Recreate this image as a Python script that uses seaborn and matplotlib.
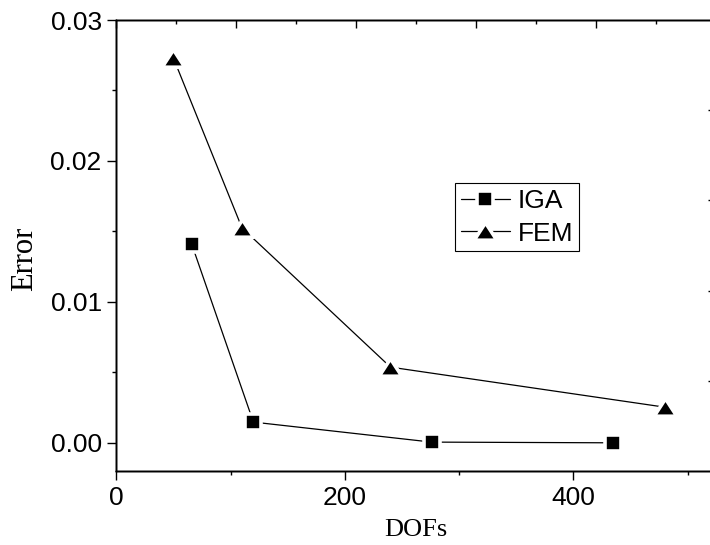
import matplotlib
matplotlib.use("Agg")
import numpy as np
import pandas as pd
import matplotlib.pyplot as plt
from matplotlib.markers import MarkerStyle
from matplotlib.path import Path
from matplotlib.ticker import MultipleLocator, FixedLocator, NullFormatter
import seaborn as sns

# Error versus degrees of freedom for the two discretisations
iga_dofs = [66, 120, 276, 435]
iga_error = [0.0141, 0.00147, 0.00005, 0.0]
fem_dofs = [50, 110, 240, 480]
fem_error = [0.0273, 0.01525, 0.00537, 0.00253]
series_names = ["IGA", "FEM"]

sns.set_theme(style="ticks")
plt.rcParams["font.family"] = ["Liberation Sans", "DejaVu Sans"]
plt.rcParams.update({
    "axes.edgecolor": "black",
    "axes.linewidth": 1.0,
    "xtick.color": "black",
    "ytick.color": "black",
    "text.color": "black",
    "axes.labelcolor": "black",
})

df = pd.concat([
    pd.DataFrame({"DOFs": iga_dofs, "Error": iga_error, "method": series_names[0]}),
    pd.DataFrame({"DOFs": fem_dofs, "Error": fem_error, "method": series_names[1]}),
], ignore_index=True)

fig = plt.figure(figsize=(7.10, 5.45), dpi=100)
W, H = 710.0, 545.0
ax = fig.add_axes([116.3 / W, 74 / H, 600 / W, 451 / H])

# white marker edges leave a small gap between each marker and its line
square = MarkerStyle("s", joinstyle="round")
tri_path = Path([(0, 0.77), (-1, -0.77), (1, -0.77), (0, 0.77)],
                [Path.MOVETO, Path.LINETO, Path.LINETO, Path.CLOSEPOLY])
triangle = MarkerStyle(tri_path, joinstyle="round")

common = dict(color="black", linewidth=0.9, markerfacecolor="black",
              markeredgecolor="white", markeredgewidth=2.6, errorbar=None,
              sort=False)
sns.lineplot(data=df[df["method"] == "IGA"], x="DOFs", y="Error", ax=ax,
             marker=square, markersize=11.7, label="IGA", **common)
sns.lineplot(data=df[df["method"] == "FEM"], x="DOFs", y="Error", ax=ax,
             marker=triangle, markersize=16.3, label="FEM", **common)

ax.set_xlim(0, 525.2)
ax.set_ylim(-0.002, 0.03)
ax.xaxis.set_major_locator(MultipleLocator(200))
ax.xaxis.set_minor_locator(MultipleLocator(100))
ax.yaxis.set_major_locator(MultipleLocator(0.01))
ax.yaxis.set_minor_locator(MultipleLocator(0.005))
ax.yaxis.set_major_formatter(matplotlib.ticker.FormatStrFormatter("%.2f"))
ax.tick_params(axis="both", which="major", direction="out", length=6.5,
               width=1.0, labelsize=19, pad=4)
ax.tick_params(axis="both", which="minor", direction="out", length=3,
               width=1.0)
ax.tick_params(top=False, right=False)
for s in ax.spines.values():
    s.set_visible(True)
    s.set_linewidth(1.0)
    s.set_color("black")

ax.set_xlabel("DOFs", fontfamily=["Liberation Serif"], fontsize=19, labelpad=7)
ax.set_ylabel("Error", fontfamily=["Liberation Serif"], fontsize=22)
ax.yaxis.set_label_coords(-0.128, 0.47)

# independent frame ticks along the top and right edges
top = ax.twiny()
top.set_xlim(0, 5)
top.xaxis.set_major_locator(FixedLocator([0, 1, 2, 3, 4, 5]))
top.xaxis.set_minor_locator(MultipleLocator(0.5))
top.xaxis.set_major_formatter(NullFormatter())
top.tick_params(axis="x", which="major", direction="in", length=5.8, width=1.0)
top.tick_params(axis="x", which="minor", direction="in", length=2.9, width=1.0)

right = ax.twinx()
right.set_ylim(0, 5)
right.yaxis.set_major_locator(FixedLocator([1, 2, 3, 4]))
right.yaxis.set_major_formatter(NullFormatter())
right.tick_params(axis="y", which="major", direction="in", length=5.8, width=1.0)

if ax.get_legend() is not None:
    ax.get_legend().remove()
handles, labels = ax.get_legend_handles_labels()
leg = right.legend(handles, labels, loc="upper left",
                   bbox_to_anchor=(0.5645, 0.6386), borderaxespad=0,
                   frameon=True, fancybox=False, shadow=False,
                   edgecolor="black", framealpha=1, fontsize=19,
                   handlelength=1.85, handletextpad=0.3, labelspacing=0.33,
                   borderpad=0.22)
leg.get_frame().set_linewidth(0.8)

fig.savefig("out.png", dpi=100, facecolor="white")
